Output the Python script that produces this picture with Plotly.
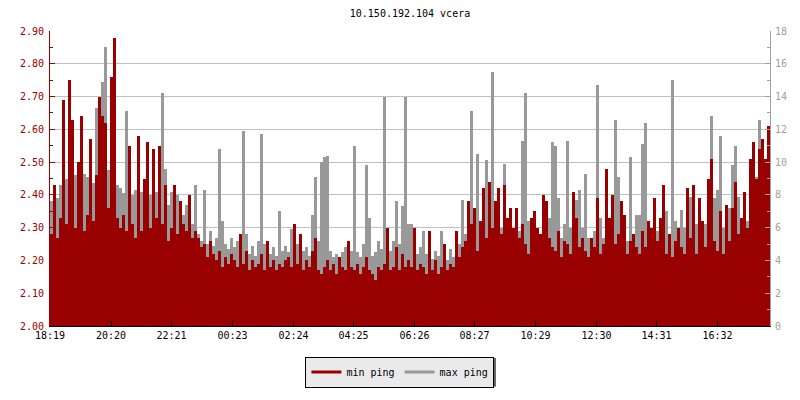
import plotly.graph_objects as go

# ---- data, one sample every 6 minutes ----
step_minutes = 6
min_ping = [
    2.28, 2.43, 2.27, 2.33, 2.69, 2.31, 2.75, 2.63, 2.30, 2.50,
    2.64, 2.29, 2.34, 2.57, 2.32, 2.46, 2.70, 2.64, 2.62, 2.36,
    2.76, 2.88, 2.33, 2.30, 2.34, 2.29, 2.55, 2.31, 2.27, 2.58,
    2.29, 2.45, 2.56, 2.30, 2.54, 2.33, 2.55, 2.31, 2.43, 2.26,
    2.30, 2.43, 2.28, 2.38, 2.31, 2.29, 2.40, 2.27, 2.29, 2.27,
    2.24, 2.25, 2.21, 2.26, 2.22, 2.20, 2.23, 2.18, 2.21, 2.19,
    2.22, 2.20, 2.18, 2.28, 2.19, 2.23, 2.17, 2.20, 2.18, 2.19,
    2.22, 2.17, 2.26, 2.18, 2.20, 2.17, 2.19, 2.18, 2.20, 2.21,
    2.18, 2.31, 2.19, 2.28, 2.17, 2.20, 2.18, 2.23, 2.27, 2.17,
    2.16, 2.18, 2.20, 2.17, 2.19, 2.16, 2.21, 2.18, 2.17, 2.26,
    2.18, 2.17, 2.19, 2.16, 2.18, 2.21, 2.17, 2.16, 2.14, 2.18,
    2.17, 2.19, 2.30, 2.17, 2.18, 2.24, 2.17, 2.22, 2.18, 2.20,
    2.18, 2.30, 2.17, 2.19, 2.18, 2.16, 2.29, 2.17, 2.20, 2.16,
    2.18, 2.25, 2.17, 2.19, 2.18, 2.29, 2.21, 2.24, 2.26, 2.38,
    2.31, 2.36, 2.23, 2.32, 2.42, 2.27, 2.44, 2.30, 2.38, 2.42,
    2.28, 2.43, 2.33, 2.36, 2.30, 2.36, 2.27, 2.31, 2.25, 2.22,
    2.33, 2.35, 2.30, 2.28, 2.40, 2.38, 2.27, 2.24, 2.23, 2.29,
    2.21, 2.26, 2.25, 2.22, 2.41, 2.33, 2.24, 2.27, 2.23, 2.21,
    2.27, 2.24, 2.39, 2.22, 2.25, 2.48, 2.33, 2.40, 2.25, 2.28,
    2.38, 2.34, 2.22, 2.26, 2.28, 2.24, 2.22, 2.29, 2.24, 2.32,
    2.30, 2.39, 2.26, 2.33, 2.43, 2.22, 2.28, 2.21, 2.26, 2.30,
    2.24, 2.22, 2.42, 2.27, 2.43, 2.22, 2.39, 2.32, 2.24, 2.45,
    2.51, 2.26, 2.23, 2.35, 2.22, 2.37, 2.26, 2.36, 2.44, 2.28,
    2.33, 2.41, 2.30, 2.51, 2.56, 2.45, 2.54, 2.57, 2.51, 2.61,
]
max_ping = [
    7.6, 8.2, 7.8, 8.6, 8.0, 9.0, 8.4, 8.8, 9.2, 8.1,
    8.5, 9.3, 9.1, 8.4, 8.7, 13.3, 9.6, 14.9, 17.0, 9.5,
    8.8, 9.0, 8.6, 8.4, 8.1, 13.1, 8.5, 8.0, 8.3, 10.4,
    8.2, 7.9, 8.6, 8.0, 7.6, 8.2, 7.8, 14.2, 9.6, 7.4,
    8.2, 7.6, 8.0, 7.2, 6.8, 7.4, 6.5, 6.2, 8.6, 5.6,
    5.2, 8.3, 5.0, 5.8, 4.9, 5.4, 10.8, 6.4, 5.0, 4.7,
    5.4, 4.8, 5.2, 4.6, 11.9, 5.6, 4.4, 4.9, 4.3, 5.2,
    11.7, 5.0, 4.6, 4.4, 4.8, 4.3, 7.0, 4.6, 4.9, 4.5,
    5.9, 4.6, 5.0, 4.4, 4.6, 4.8, 4.3, 6.8, 9.1, 5.2,
    10.0, 10.3, 10.4, 4.6, 4.2, 4.4, 4.0, 4.5, 4.8, 4.2,
    4.6, 11.0, 4.5, 4.2, 5.0, 9.8, 6.6, 4.3, 4.5, 5.2,
    4.7, 14.0, 5.4, 4.6, 5.2, 7.6, 5.0, 7.3, 14.0, 6.2,
    6.2, 4.6, 4.4, 4.8, 5.8, 4.4, 4.5, 4.1, 4.6, 4.3,
    5.8, 4.4, 4.0, 4.7, 4.2, 4.6, 5.0, 7.7, 5.6, 6.2,
    13.1, 6.4, 10.5, 5.8, 6.6, 10.1, 6.0, 15.5, 6.4, 5.8,
    6.0, 9.9, 5.6, 6.2, 5.4, 6.6, 5.8, 11.3, 14.2, 6.4,
    5.4, 5.8, 6.0, 5.4, 5.2, 5.6, 6.6, 11.2, 11.0, 7.8,
    5.4, 6.2, 11.3, 6.0, 5.6, 7.7, 8.3, 6.0, 9.3, 5.4,
    5.2, 5.8, 14.7, 6.6, 5.4, 7.9, 5.8, 6.4, 12.6, 9.1,
    5.6, 6.0, 5.2, 10.3, 5.4, 6.8, 6.8, 11.1, 12.4, 6.0,
    5.0, 5.4, 5.8, 4.8, 6.0, 7.0, 5.6, 15.0, 6.4, 5.4,
    7.1, 6.0, 5.2, 7.9, 5.6, 6.2, 5.4, 5.8, 6.2, 5.6,
    12.8, 7.8, 8.3, 11.6, 6.0, 5.8, 7.2, 9.8, 11.0, 7.9,
    6.6, 8.0, 6.4, 7.0, 6.8, 9.1, 12.6, 8.4, 7.6, 7.4,
]
tick_minutes = [0, 122, 243, 365, 487, 607, 729, 849, 971, 1093, 1213, 1335]
tick_labels = ["18:19", "20:20", "22:21", "00:23", "02:24", "04:25",
               "06:26", "08:27", "10:29", "12:30", "14:31", "16:32"]
series_names = ["min ping", "max ping"]
title_text = "10.150.192.104 vcera"

x_minutes = [step_minutes * i + step_minutes / 2 for i in range(len(min_ping))]

RED = "#990000"
GRAY = "#999999"
AXGRAY = "#a0a0a0"
FONT = "DejaVu Sans Mono"

fig = go.Figure()
# max ping on the right axis (base subplot, drawn underneath)
fig.add_trace(go.Bar(x=x_minutes, y=max_ping, width=step_minutes, yaxis="y",
                     marker=dict(color=GRAY, line=dict(width=0)),
                     name=series_names[1], showlegend=False))
# min ping on the left axis (overlaying subplot, drawn on top)
fig.add_trace(go.Bar(x=x_minutes, y=min_ping, width=step_minutes, yaxis="y2",
                     marker=dict(color=RED, line=dict(width=0)),
                     name=series_names[0], showlegend=False))
# legend entries drawn as short lines
fig.add_trace(go.Scatter(x=[None], y=[None], mode="lines", name=series_names[0],
                         line=dict(color=RED, width=3)))
fig.add_trace(go.Scatter(x=[None], y=[None], mode="lines", name=series_names[1],
                         line=dict(color=GRAY, width=3)))

# drop shadow behind the legend box
fig.add_shape(type="rect", xref="paper", yref="paper",
              x0=0.3597, x1=0.6194, y0=-0.2057, y1=-0.1087,
              fillcolor="#666666", line=dict(width=0), layer="above")

fig.update_layout(
    width=800, height=400,
    margin=dict(l=50, r=30, t=31, b=70, pad=0),
    paper_bgcolor="white", plot_bgcolor="white",
    barmode="overlay", bargap=0,
    font=dict(family=FONT, size=10, color="black"),
    title=dict(text=title_text, x=0.5125, xanchor="center", y=1 - 13 / 400,
               yanchor="middle", yref="container",
               font=dict(family=FONT, size=10, color="black")),
    xaxis=dict(range=[0, 1440], tickmode="array", tickvals=tick_minutes,
               ticktext=tick_labels, ticks="inside", ticklen=5, tickcolor="black",
               showline=True, linecolor="black", linewidth=1, showgrid=False,
               zeroline=False, automargin=False,
               tickfont=dict(color="black", size=10)),
    yaxis=dict(range=[0, 18], side="right", dtick=2, ticks="inside", ticklen=5,
               tickcolor=AXGRAY, showline=True, linecolor=AXGRAY,
               linewidth=1, showgrid=True, gridcolor="#c0c0c0", gridwidth=1,
               zeroline=False, automargin=False,
               tickfont=dict(color=AXGRAY, size=10),
               ticklabelstandoff=2,
               minor=dict(dtick=1, ticks="inside", ticklen=3, tickcolor=AXGRAY)),
    yaxis2=dict(range=[2.0, 2.9], side="left", overlaying="y", dtick=0.1,
                tickformat=".2f", ticks="inside", ticklen=5, tickcolor=RED,
                showline=True, linecolor=RED, linewidth=1, showgrid=False,
                zeroline=False, automargin=False,
                tickfont=dict(color=RED, size=10),
                ticklabelstandoff=3,
                minor=dict(dtick=0.05, ticks="inside", ticklen=3, tickcolor=RED)),
    legend=dict(orientation="h", x=0.486, xanchor="center", y=-0.1037,
                yanchor="top", bgcolor="#eaeaea", bordercolor="black",
                borderwidth=1, font=dict(family=FONT, size=10, color="black"),
                itemwidth=30, tracegroupgap=0),
)

fig.write_html("out.html", config={"displayModeBar": False},
               post_script="document.body.style.margin='0';")
